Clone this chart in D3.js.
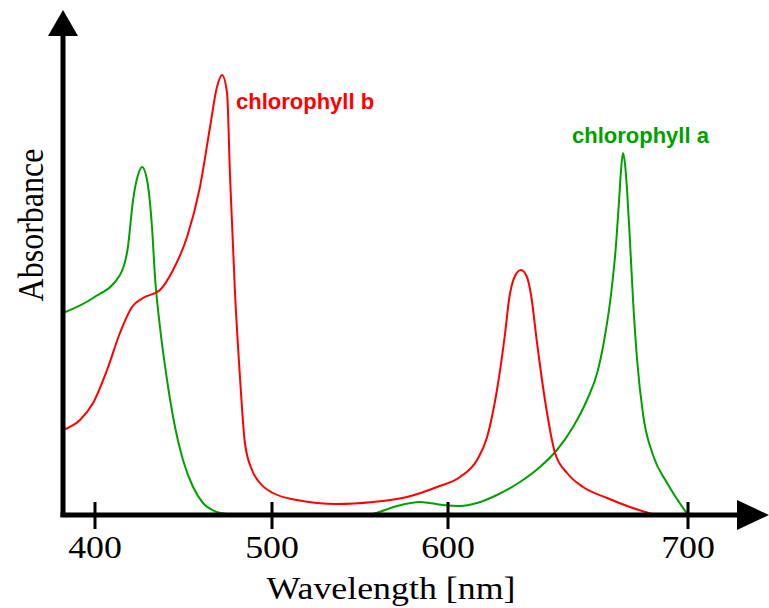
<!DOCTYPE html>
<html>
<head>
<meta charset="utf-8">
<script src="https://cdn.jsdelivr.net/npm/d3@7"></script>
<style>
  body { margin: 0; background: #fff; }
  svg { display: block; }
</style>
</head>
<body>
<div class="spectrum"></div>
<script>
// absorption spectra, wavelength in nm, absorbance in arbitrary units (0..1)

var chlAWavelength = [381.9, 398.9, 414.1, 418.6, 421.5, 424.3, 426.6, 429.4, 432.2, 433.9, 436.7, 440.7,
    445.2, 449.7, 455.4, 461.0, 468.9, 474.6, 482.0, 555.0, 557.4, 571.0, 584.1, 597.2, 605.0, 612.1,
    620.4, 630.0, 638.3, 645.4, 652.1, 657.9, 662.5, 665.8, 667.9, 670.0, 671.3, 672.1, 672.9, 673.8,
    674.6, 675.8, 677.1, 678.8, 681.3, 685.4, 691.3, 700.0];
var chlAValue = [0.404, 0.434, 0.480, 0.536, 0.630, 0.680, 0.696, 0.670, 0.576, 0.476, 0.376, 0.270,
    0.176, 0.110, 0.056, 0.024, 0.006, 0.002, 0.000, 0.000, 0.002, 0.018, 0.026, 0.020, 0.018, 0.024,
    0.040, 0.066, 0.096, 0.130, 0.176, 0.230, 0.290, 0.370, 0.440, 0.540, 0.630, 0.690, 0.724, 0.700,
    0.650, 0.550, 0.430, 0.310, 0.200, 0.120, 0.064, 0.000];

var chlBWavelength = [381.9, 391.5, 398.9, 406.8, 414.1, 420.9, 427.1, 436.7, 444.1, 452.0, 459.3, 465.0,
    468.9, 471.8, 474.6, 476.3, 479.1, 481.9, 484.7, 488.7, 493.2, 500.6, 514.2, 536.9, 557.4, 576.7,
    593.8, 605.0, 612.1, 616.3, 620.4, 623.8, 625.4, 627.9, 630.4, 632.9, 634.6, 637.1, 640.4, 644.6,
    649.6, 656.3, 666.3, 675.8, 685.0];
var chlBValue = [0.170, 0.190, 0.224, 0.290, 0.364, 0.416, 0.434, 0.450, 0.490, 0.556, 0.656, 0.776,
    0.856, 0.880, 0.844, 0.676, 0.444, 0.276, 0.144, 0.090, 0.064, 0.044, 0.030, 0.022, 0.026, 0.036,
    0.056, 0.076, 0.110, 0.156, 0.250, 0.364, 0.430, 0.478, 0.490, 0.476, 0.440, 0.344, 0.230, 0.124,
    0.084, 0.056, 0.034, 0.016, 0.002];

var tickValues = [400, 500, 600, 700];
var tickLabels = ["400", "500", "600", "700"];

var seriesNames = ["chlorophyll a", "chlorophyll b"];
var seriesColors = ["#00a000", "#ff0000"];

function drawSpectrum() {

    const width = 769;
    const height = 608;

    var svg = d3.select("div.spectrum")
                .append("svg")
                .attr("width", width)
                .attr("height", height);

    // the original picture has a wider 600-700 section
    var x = d3.scaleLinear()
              .domain(tickValues)
              .range([95, 272, 448, 688]);

    var y = d3.scaleLinear()
              .domain([0, 1])
              .range([515, 15]);

    var originX = 63;
    var originY = y(0);

    var line = d3.line()
                 .x(function(d) { return x(d[0]); })
                 .y(function(d) { return y(d[1]); })
                 .curve(d3.curveMonotoneX);

    var seriesData = [
        d3.zip(chlAWavelength, chlAValue),
        d3.zip(chlBWavelength, chlBValue)
    ];

    svg.selectAll("path.spectrum")
       .data(seriesData)
       .enter()
       .append("path")
       .attr("class", "spectrum")
       .attr("fill", "none")
       .attr("stroke", function(d, i) { return seriesColors[i]; })
       .attr("stroke-width", 2)
       .attr("stroke-linejoin", "round")
       .attr("d", line);

    // axes with arrow heads
    var axisG = svg.append("g").attr("class", "axes");

    axisG.append("line")
         .attr("x1", originX).attr("y1", originY + 2)
         .attr("x2", originX).attr("y2", 34)
         .attr("stroke", "#000")
         .attr("stroke-width", 5);

    axisG.append("line")
         .attr("x1", originX - 2.5).attr("y1", originY)
         .attr("x2", 740).attr("y2", originY)
         .attr("stroke", "#000")
         .attr("stroke-width", 5);

    axisG.append("path")
         .attr("d", "M" + originX + ",10L" + (originX + 15) + ",36L" + (originX - 15) + ",36Z")
         .attr("fill", "#000");

    axisG.append("path")
         .attr("d", "M769," + originY + "L737," + (originY - 15) + "L737," + (originY + 15) + "Z")
         .attr("fill", "#000");

    axisG.selectAll("line.tick")
         .data(tickValues)
         .enter()
         .append("line")
         .attr("class", "tick")
         .attr("x1", function(d) { return x(d); })
         .attr("x2", function(d) { return x(d); })
         .attr("y1", originY - 13)
         .attr("y2", originY + 14)
         .attr("stroke", "#000")
         .attr("stroke-width", 3);

    axisG.selectAll("text.tick")
         .data(tickValues)
         .enter()
         .append("text")
         .attr("class", "tick")
         .attr("transform", function(d) { return "translate(" + x(d) + ",558) scale(1.12,1)"; })
         .attr("text-anchor", "middle")
         .style("font-family", "'Liberation Serif', 'Times New Roman', serif")
         .style("font-size", "32px")
         .text(function(d, i) { return tickLabels[i]; });

    svg.append("text")
       .attr("transform", "translate(391,599) scale(1.12,1)")
       .attr("text-anchor", "middle")
       .style("font-family", "'Liberation Serif', 'Times New Roman', serif")
       .style("font-size", "32px")
       .text("Wavelength [nm]");

    svg.append("text")
       .attr("transform", "translate(43,225) scale(1.12,1) rotate(-90)")
       .attr("text-anchor", "middle")
       .style("font-family", "'Liberation Serif', 'Times New Roman', serif")
       .style("font-size", "32px")
       .text("Absorbance");

    // series labels
    var labelPos = [[572, 143], [236, 109]];

    svg.selectAll("text.series")
       .data(seriesNames)
       .enter()
       .append("text")
       .attr("class", "series")
       .attr("x", function(d, i) { return labelPos[i][0]; })
       .attr("y", function(d, i) { return labelPos[i][1]; })
       .attr("fill", function(d, i) { return seriesColors[i]; })
       .style("font-family", "'Liberation Sans', Arial, sans-serif")
       .style("font-weight", "bold")
       .style("font-size", "22px")
       .text(function(d) { return d; });
}

drawSpectrum();
</script>
</body>
</html>
